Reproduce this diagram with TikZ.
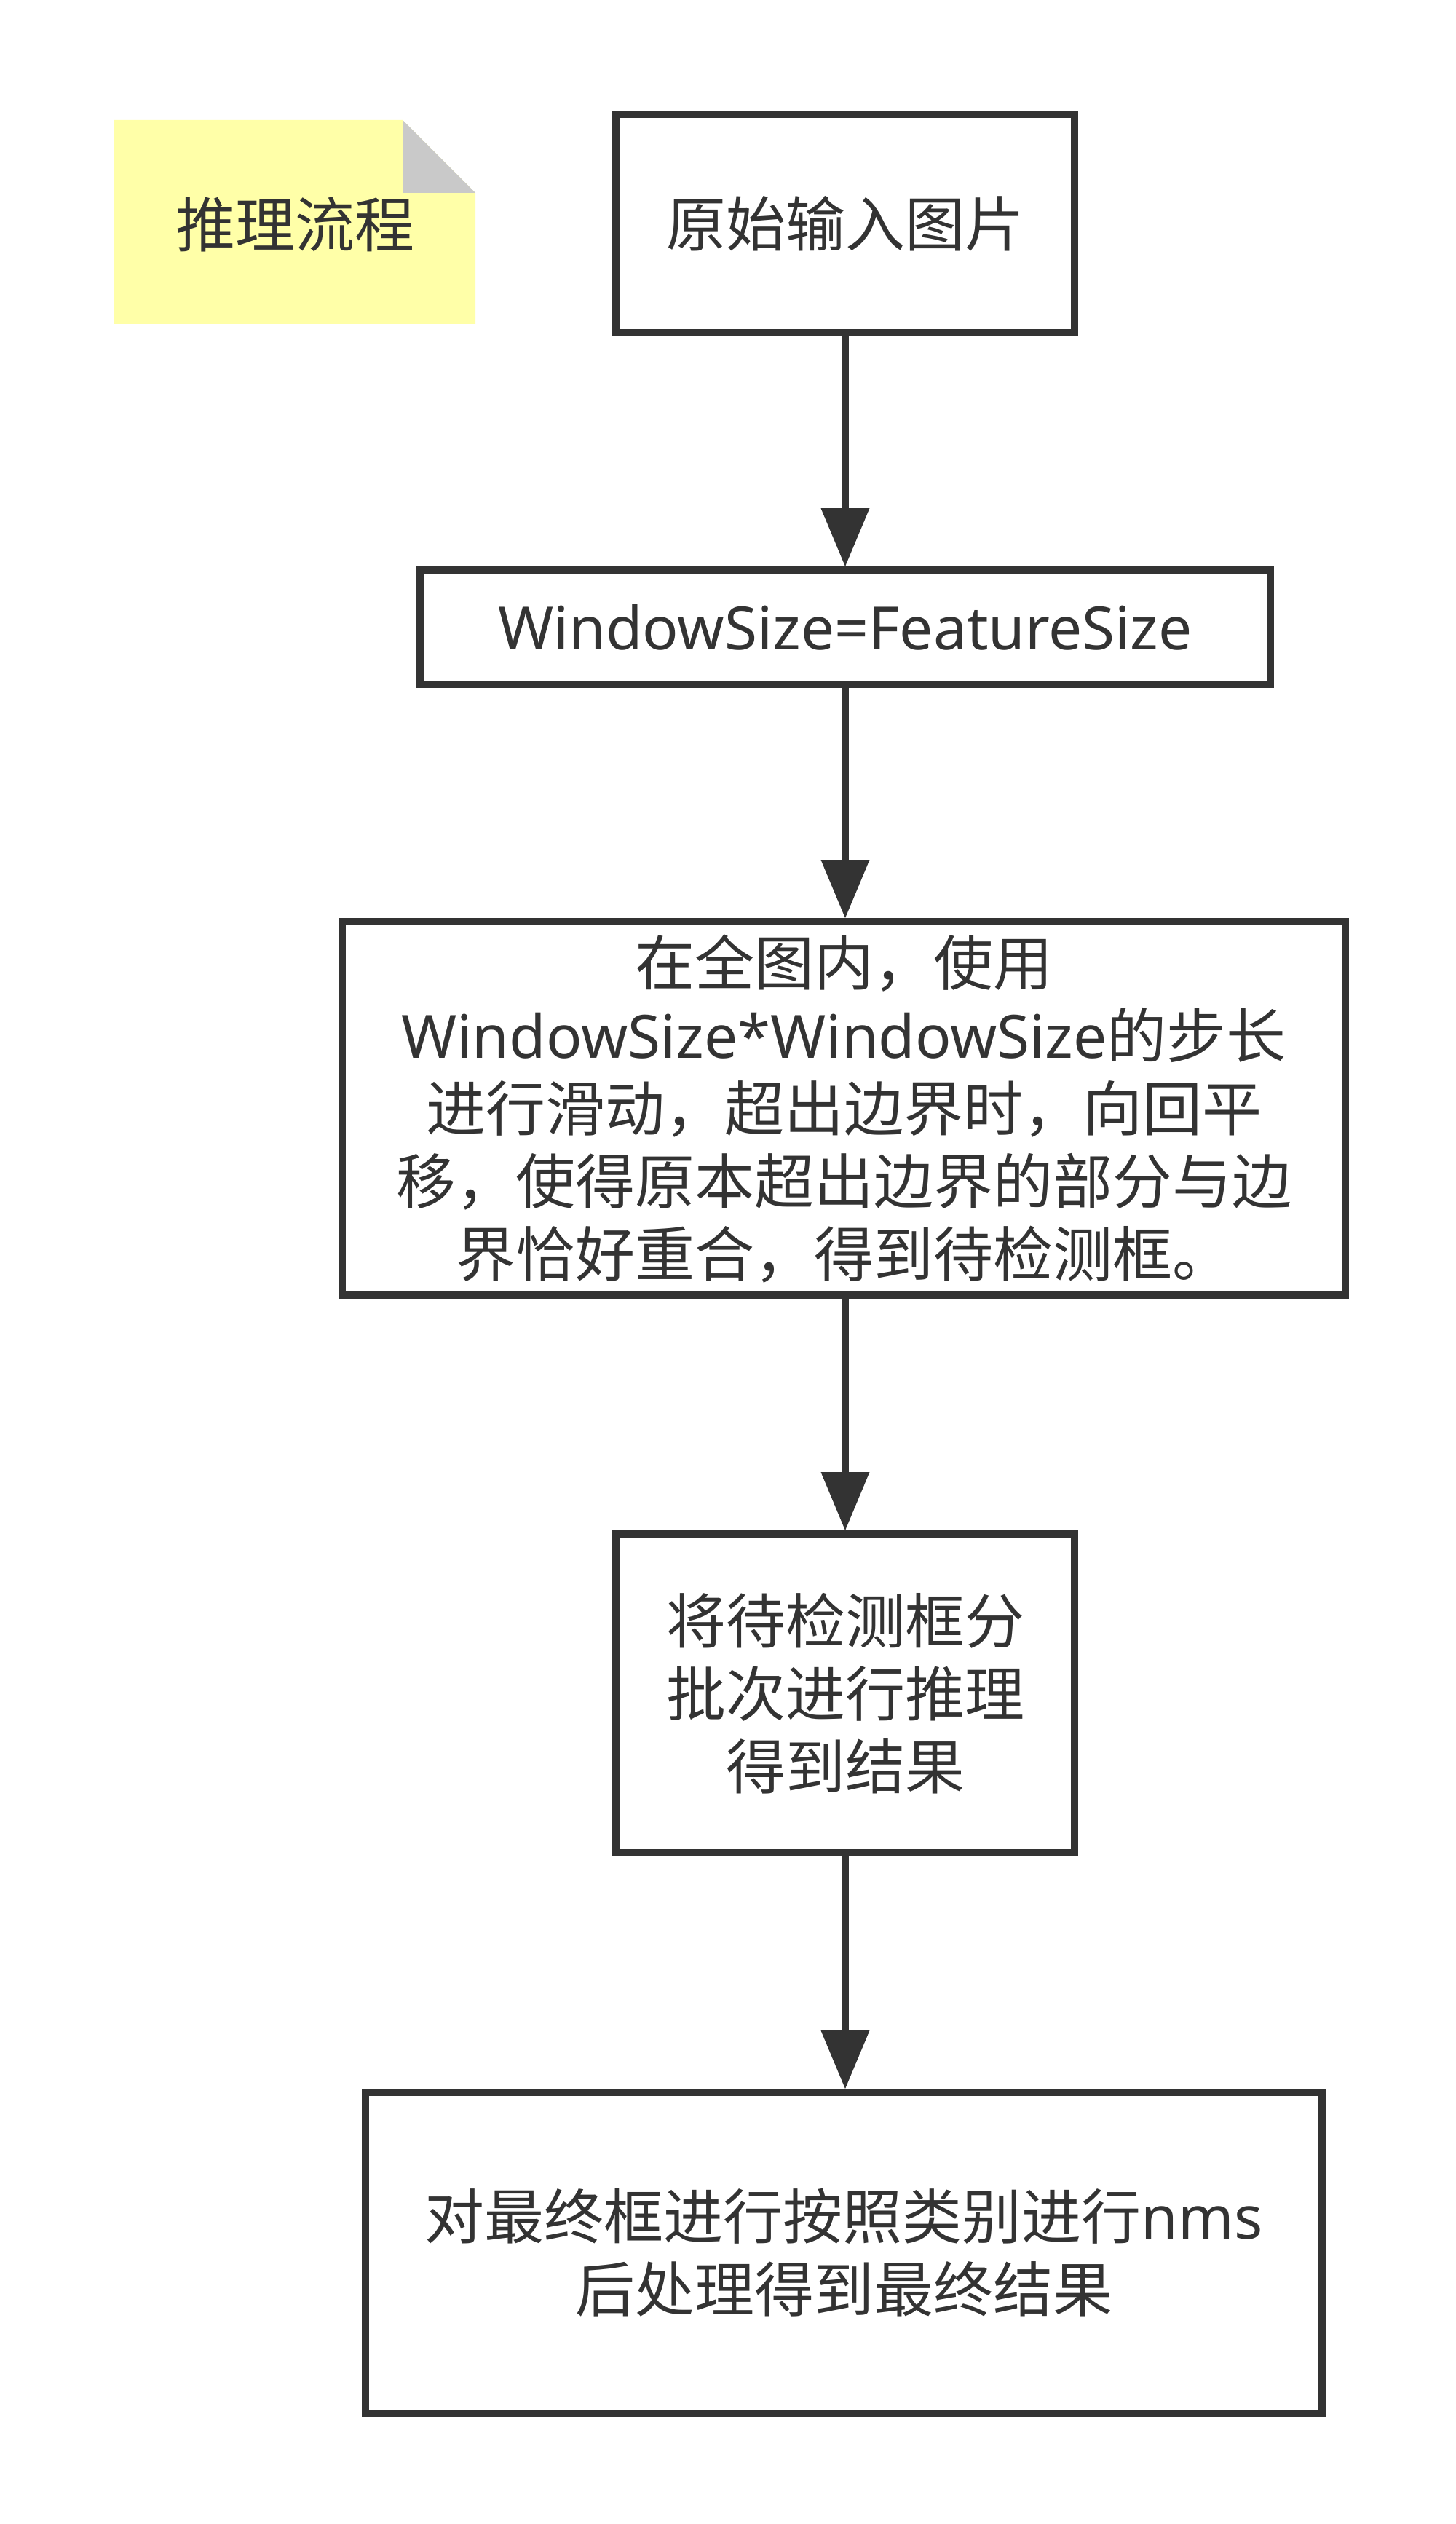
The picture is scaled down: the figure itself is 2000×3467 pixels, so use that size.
\documentclass[tikz,border=0pt]{standalone}
\usepackage{fontspec}
\setmainfont{Noto Sans CJK SC}
\newfontfamily\lat{Noto Sans}
\usetikzlibrary{arrows.meta}
\definecolor{ink}{HTML}{333333}
\definecolor{notefill}{HTML}{FFFFA8}
\definecolor{notefold}{HTML}{C9C9C9}
\tikzset{
  stepbox/.style={draw=ink, line width=5pt, fill=white, text=ink, align=center,
    inner sep=0pt, font=\fontsize{41}{50}\selectfont},
  flow/.style={draw=ink, line width=5pt,
    -{Triangle[length=40pt,width=33.5pt,line width=0pt]}},
}
\begin{document}
\begin{tikzpicture}[x=0.5pt,y=-0.5pt]
\useasboundingbox[fill=white] (0,0) rectangle (2000,3467);
% note
\fill[notefill] (157,165) -- (553,165) -- (653,265) -- (653,445) -- (157,445) -- cycle;
\fill[notefold] (553,165) -- (653,265) -- (553,265) -- cycle;
\node[text=ink, font=\fontsize{41}{50}\selectfont] (note) at (405,308) {推理流程};
% boxes
\node[stepbox, minimum width=315pt, minimum height=150pt] (b1) at (1161,307) {原始输入图片};
\node[stepbox, minimum width=584pt, minimum height=78.5pt] (b2) at (1161,861.5) {\lat WindowSize=FeatureSize};
\node[stepbox, minimum width=689pt, minimum height=256.5pt] (b3) at (1159,1522.5)
  {在全图内，使用\\{\lat WindowSize*WindowSize}的步长\\进行滑动，超出边界时，向回平\\移，使得原本超出边界的部分与边\\界恰好重合，得到待检测框。};
\node[stepbox, minimum width=315pt, minimum height=219pt] (b4) at (1161,2326)
  {将待检测框分\\批次进行推理\\得到结果};
\node[stepbox, minimum width=657pt, minimum height=220.5pt] (b5) at (1159,3094.5)
  {对最终框进行按照类别进行{\lat nms}\\后处理得到最终结果};
% connectors
\draw[flow] (b1.south) -- (b1.south |- b2.north);
\draw[flow] (b2.south) -- (b2.south |- b3.north);
\draw[flow] (b2.south |- b3.south) -- (b2.south |- b4.north);
\draw[flow] (b4.south) -- (b4.south |- b5.north);
\end{tikzpicture}
\end{document}
